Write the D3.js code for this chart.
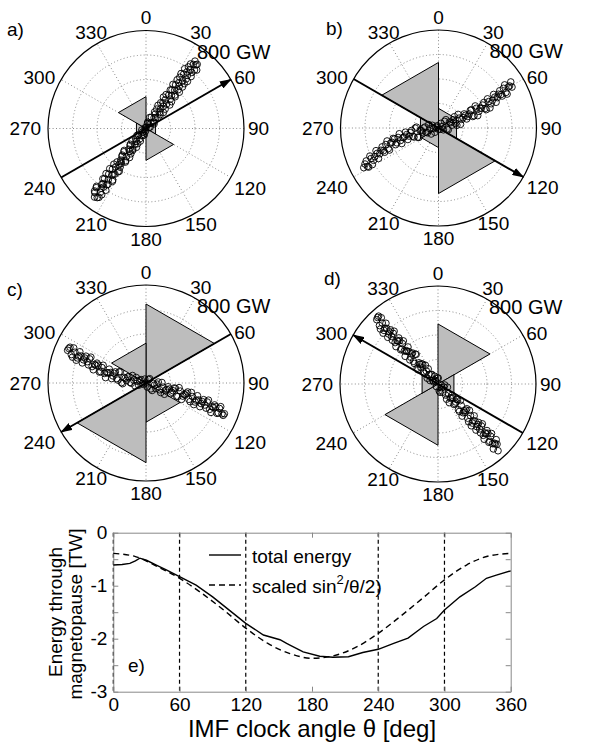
<!DOCTYPE html><meta charset="utf-8">
<style>
*{margin:0}
body{background:#fff}
svg{font-family:"Liberation Sans",Arial,Helvetica,sans-serif;font-size:19px}
.grid{fill:none;stroke:#8a8a8a;stroke-width:1;stroke-dasharray:1,2.4}
.pt{fill:none;stroke:#000;stroke-width:.9}
</style>
<svg width="592" height="745"></svg>
<script src="https://d3js.org/d3.v7.min.js"></script>
<script>
// ---- polar panels a-d ----
const panelNames = ["a)", "b)", "c)", "d)"];
const angleTicks = [0, 30, 60, 90, 120, 150, 180, 210, 240, 270, 300, 330];
const ringTicks = [200, 400, 600];
const rMax = 800;                                  // GW, outer ring
const binEdges = [0, 60, 120, 180, 240, 300, 360]; // rose bins (deg)
const roseA = [70, 90, 260, 70, 90, 260];
const roseB = [160, 170, 535, 160, 170, 535];
const roseC = [645, 20, 320, 650, 20, 325];
const roseD = [490, 150, 60, 500, 150, 60];
const arrowDir = [60, 120, 240, 300];              // arrow head direction (deg)

// scatter points [east, north] in GW
const ptsA = [[-420,-560],[-384,-562],[-420,-510],[-372,-521],[-404,-472],[-328,-504],[-360,-455],[-320,-460],[-352,-411],[-308,-419],[-272,-421],[-304,-372],[-268,-374],[-296,-328],[-228,-354],[-248,-314],[-212,-316],[-236,-273],[-204,-272],[-168,-274],[-196,-228],[-160,-230],[-180,-190],[-124,-207],[-140,-170],[-108,-169],[-128,-129],[-92,-131],[-68,-124],[-84,-87],[-52,-86],[-64,-52],[-24,-57],[-28,-29],[-4,-22],[-8,6],[24,7],[12,41],[40,45],[64,52],[44,92],[80,90],[76,118],[116,113],[88,159],[120,160],[156,158],[120,210],[168,199],[156,233],[208,219],[164,277],[208,269],[236,273],[212,316],[272,296],[220,360],[272,346],[268,374],[312,366],[276,418],[328,404],[308,444],[368,424],[316,488],[360,480],[396,478],[364,527],[408,519],[400,550],
  [-398,-564],[-418,-524],[-362,-541],[-406,-483],[-366,-488],[-346,-478],[-350,-450],[-310,-455],[-338,-409],[-274,-432],[-326,-368],[-278,-379],[-254,-372],[-274,-332],[-218,-349],[-262,-291],[-222,-296],[-202,-286],[-206,-258],[-166,-263],[-194,-217],[-134,-237],[-178,-179],[-134,-187],[-110,-180],[-130,-140],[-78,-154],[-114,-102],[-78,-104],[-46,-103],[-74,-57],[-38,-59],[-14,-52],[-34,-12],[-6,-8],[2,11],[34,12],[14,52],[66,38],[30,90],[66,88],[98,89],[70,135],[110,130],[142,131],[98,189],[142,181],[138,209],[194,192],[142,256],[198,239],[186,273],[238,259],[198,314],[234,312],[262,316],[242,356],[298,339],[254,397],[298,389],[338,384],[286,448],[338,434],[334,462],[374,457],[346,503],[414,477],[386,523],[418,524]];
const ptsB = [[-610,-324],[-590,-269],[-570,-319],[-550,-249],[-530,-264],[-510,-185],[-490,-249],[-470,-182],[-450,-186],[-430,-135],[-410,-168],[-390,-122],[-370,-85],[-350,-136],[-330,-77],[-310,-102],[-290,-78],[-270,-34],[-250,-94],[-230,-38],[-210,-67],[-190,-1],[-170,-75],[-150,-19],[-130,-33],[-110,8],[-90,-39],[-70,-6],[-50,22],[-30,-35],[-10,18],[10,-11],[30,12],[50,54],[70,-8],[90,50],[110,23],[130,92],[150,22],[170,81],[190,70],[210,115],[230,74],[250,114],[270,149],[290,100],[310,161],[330,136],[350,162],[370,208],[390,150],[410,216],[430,198],[450,274],[470,210],[490,276],[510,273],[530,324],[550,290],[570,335],[590,376],[600,334],
  [-600,-294],[-580,-314],[-560,-229],[-540,-299],[-520,-234],[-500,-207],[-480,-210],[-460,-154],[-440,-198],[-420,-106],[-400,-180],[-380,-116],[-360,-90],[-340,-121],[-320,-47],[-300,-127],[-280,-73],[-260,-54],[-240,-66],[-220,-20],[-200,-74],[-180,7],[-160,-77],[-140,-21],[-120,0],[-100,-35],[-80,28],[-60,-49],[-40,-6],[-20,7],[0,-10],[20,38],[40,-15],[60,68],[80,-14],[100,44],[120,67],[140,37],[160,111],[180,30],[200,85],[220,104],[240,94],[260,144],[280,94],[300,180],[320,101],[340,161],[360,187],[380,159],[400,238],[420,164],[440,226],[460,252],[480,248],[500,304],[520,261],[540,352],[560,277],[580,343]];
const ptsC = [[-640,267],[-620,292],[-600,211],[-580,251],[-560,205],[-540,255],[-520,164],[-500,204],[-480,174],[-460,197],[-440,134],[-420,151],[-400,162],[-380,89],[-360,126],[-340,78],[-320,85],[-300,113],[-280,36],[-260,79],[-240,37],[-220,90],[-200,3],[-180,46],[-160,21],[-140,52],[-120,-2],[-100,24],[-80,45],[-60,-18],[-40,28],[-20,-11],[0,0],[20,29],[40,-48],[60,-4],[80,-45],[100,8],[120,-78],[140,-34],[160,-60],[180,-31],[200,-87],[220,-63],[240,-44],[260,-110],[280,-66],[300,-107],[320,-99],[340,-73],[360,-152],[380,-111],[400,-155],[420,-104],[440,-193],[460,-152],[480,-180],[500,-155],[520,-215],[540,-194],[560,-179],[580,-248],[600,-208],[620,-252],[640,-251],
  [-630,282],[-610,232],[-590,286],[-570,186],[-550,220],[-530,220],[-510,189],[-490,219],[-470,148],[-450,211],[-430,108],[-410,144],[-390,146],[-370,93],[-350,145],[-330,44],[-310,82],[-290,85],[-270,58],[-250,91],[-230,24],[-210,92],[-190,-5],[-170,39],[-150,49],[-130,5],[-110,61],[-90,-23],[-70,14],[-50,20],[-30,-4],[-10,32],[10,-33],[30,35],[50,-61],[70,-17],[90,-9],[110,-55],[130,4],[150,-92],[170,-53],[190,-49],[210,-75],[230,-41],[250,-107],[270,-38],[290,-134],[310,-91],[330,-84],[350,-133],[370,-77],[390,-176],[410,-140],[430,-139],[450,-168],[470,-136],[490,-205],[510,-140],[530,-240],[550,-199],[570,-194],[590,-243],[610,-193],[630,-264]];
const ptsD = [[-500,525],[-485,554],[-470,449],[-455,498],[-440,437],[-425,496],[-410,381],[-395,425],[-380,389],[-365,413],[-350,338],[-335,357],[-320,376],[-305,280],[-290,330],[-275,269],[-260,273],[-245,302],[-230,197],[-215,246],[-200,185],[-185,244],[-170,129],[-155,173],[-140,137],[-125,161],[-110,86],[-95,105],[-80,124],[-65,28],[-50,78],[-35,17],[-20,21],[-5,50],[10,-56],[25,-6],[40,-67],[55,-8],[70,-124],[85,-79],[100,-115],[115,-91],[130,-167],[145,-147],[160,-128],[175,-224],[190,-175],[205,-235],[220,-231],[235,-202],[250,-308],[265,-258],[280,-319],[295,-260],[310,-376],[325,-331],[340,-367],[355,-343],[370,-419],[385,-399],[400,-380],[415,-476],[430,-427],[445,-487],[460,-483],[475,-454],[490,-545],
  [-493,543],[-478,477],[-463,541],[-448,415],[-433,455],[-418,454],[-403,408],[-388,442],[-373,357],[-358,431],[-343,305],[-328,349],[-313,354],[-298,288],[-283,352],[-268,226],[-253,266],[-238,265],[-223,219],[-208,253],[-193,168],[-178,242],[-163,116],[-148,160],[-133,165],[-118,99],[-103,153],[-88,47],[-73,77],[-58,76],[-43,30],[-28,64],[-13,-21],[2,48],[17,-68],[32,-29],[47,-24],[62,-90],[77,-26],[92,-152],[107,-112],[122,-113],[137,-159],[152,-125],[167,-210],[182,-136],[197,-262],[212,-218],[227,-213],[242,-279],[257,-215],[272,-341],[287,-301],[302,-302],[317,-348],[332,-314],[347,-399],[362,-325],[377,-451],[392,-407],[407,-402],[422,-468],[437,-404],[452,-530],[467,-490],[482,-491]];

// ---- panel e ----
const thetaTot = [0, 8, 15, 20, 24, 30, 39, 48, 60, 75, 90, 105, 120, 136, 151, 157, 160, 172, 187, 199, 213, 226, 240, 254, 267, 281, 293, 300, 314, 328, 338, 347, 360];
const energyTot = [-0.61, -0.60, -0.58, -0.53, -0.48, -0.52, -0.61, -0.70, -0.83, -0.99, -1.21, -1.46, -1.71, -1.93, -2.02, -2.09, -2.12, -2.25, -2.33, -2.35, -2.34, -2.26, -2.20, -2.09, -1.99, -1.77, -1.62, -1.46, -1.21, -1.02, -0.86, -0.80, -0.72];
const thetaSin = [0, 20, 40, 60, 80, 100, 120, 140, 160, 180, 200, 220, 240, 260, 280, 300, 320, 340, 360];
const energySin = [-0.39, -0.45, -0.64, -0.86, -1.14, -1.46, -1.80, -2.09, -2.28, -2.37, -2.32, -2.16, -1.90, -1.58, -1.24, -0.89, -0.61, -0.44, -0.39];
const xTicks = [0, 60, 120, 180, 240, 300, 360];
const yTicks = [0, -0.5, -1, -1.5, -2, -2.5, -3];
const sectorLines = [0, 60, 120, 240, 300];

const svg = d3.select("svg");
const R = 98;
const rScale = d3.scaleLinear().domain([0, rMax]).range([0, R]);
const xS = d3.scaleLinear().domain([-rMax, rMax]).range([-R, R]);
const yS = d3.scaleLinear().domain([-rMax, rMax]).range([R, -R]);
const rad = d => d * Math.PI / 180;
const polar = (deg, v) => [rScale(v) * Math.sin(rad(deg)), -rScale(v) * Math.cos(rad(deg))];
const wedge = d3.lineRadial().angle(d => rad(d[0])).radius(d => rScale(d[1]));

const centres = [[146, 128.5], [438.5, 128], [146, 383], [438, 384]];
const nameXY = [[7, 36], [326, 35], [7, 296], [324, 285]];
const roses = [roseA, roseB, roseC, roseD];
const clouds = [ptsA, ptsB, ptsC, ptsD];

svg.append("defs").append("marker")
   .attr("id", "head").attr("viewBox", "0 0 12 8")
   .attr("refX", 11).attr("refY", 4)
   .attr("markerWidth", 12).attr("markerHeight", 8)
   .attr("markerUnits", "userSpaceOnUse").attr("orient", "auto")
   .append("path").attr("d", "M0,0L12,4L0,8Z").attr("fill", "#000");

centres.forEach(([cx, cy], i) => {
  const g = svg.append("g").attr("transform", `translate(${cx},${cy})`);

  g.selectAll(null).data(ringTicks).join("circle")
   .attr("class", "grid").attr("r", d => rScale(d));
  g.selectAll(null).data(angleTicks.filter(a => a < 180)).join("line")
   .attr("class", "grid")
   .attr("x1", a => polar(a, rMax)[0]).attr("y1", a => polar(a, rMax)[1])
   .attr("x2", a => polar(a + 180, rMax)[0]).attr("y2", a => polar(a + 180, rMax)[1]);

  // rose wedges
  g.selectAll(null).data(roses[i]).join("path")
   .attr("d", (v, k) => wedge([[binEdges[k], 0], [binEdges[k], v], [binEdges[k + 1], v]]) + "Z")
   .attr("fill", "#bdbdbd").attr("stroke", "#000").attr("stroke-width", 1);

  g.selectAll(null).data(clouds[i]).join("circle")
   .attr("class", "pt").attr("cx", d => xS(d[0])).attr("cy", d => yS(d[1])).attr("r", 3.3);

  const a = arrowDir[i], tail = polar(a + 180, rMax), tip = polar(a, rMax);
  g.append("line").attr("x1", tail[0]).attr("y1", tail[1]).attr("x2", tip[0]).attr("y2", tip[1])
   .attr("stroke", "#000").attr("stroke-width", 2).attr("marker-end", "url(#head)");

  g.append("circle").attr("r", rScale(rMax)).attr("fill", "none").attr("stroke", "#000").attr("stroke-width", 1.2);

  // angle labels
  g.selectAll(null).data(angleTicks).join("text")
   .attr("dominant-baseline", "central")
   .attr("text-anchor", a => { const s = Math.sin(rad(a)); return s > 0.6 ? "start" : s < -0.6 ? "end" : "middle"; })
   .attr("x", a => { const s = Math.sin(rad(a)); return rScale(rMax) * s * (s > 0.6 ? 1.04 : s < -0.6 ? 1.07 : 1.12); })
   .attr("y", a => { const s = Math.sin(rad(a)), c = Math.cos(rad(a));
                     const k = Math.abs(s) > 0.6 ? (Math.abs(s) > 0.9 ? 1 : 1.04) : 1.13;
                     return -rScale(rMax) * c * k + (c < -0.3 && Math.abs(s) > 0.6 ? 9 : 0); })
   .text(a => a);

  g.append("text").attr("x", 51).attr("y", -77).attr("font-size", 20)
   .attr("dominant-baseline", "central").text(rMax + " GW");
  svg.append("text").attr("x", nameXY[i][0]).attr("y", nameXY[i][1]).text(panelNames[i]);
});

// ---- panel e ----
const ex = d3.scaleLinear().domain([0, 360]).range([113.3, 510.7]);
const ey = d3.scaleLinear().domain([-3, 0]).range([691.7, 532.7]);
const ge = svg.append("g");
const fmt = d => Number.isInteger(d) ? String(d) : "";

ge.selectAll(null).data(sectorLines).join("line")
  .attr("x1", d => ex(d)).attr("x2", d => ex(d)).attr("y1", ey(0)).attr("y2", ey(-3))
  .attr("stroke", "#000").attr("stroke-width", 1.2).attr("stroke-dasharray", "4,3");

ge.append("g").attr("transform", `translate(0,${ey(-3)})`)
  .call(d3.axisBottom(ex).tickValues(xTicks).tickSizeInner(-5).tickSizeOuter(0).tickPadding(6).tickFormat(String));
ge.append("g").attr("transform", `translate(0,${ey(0)})`)
  .call(d3.axisTop(ex).tickValues(xTicks).tickSizeInner(-5).tickSizeOuter(0).tickFormat(""));
ge.append("g").attr("transform", `translate(${ex(0)},0)`)
  .call(d3.axisLeft(ey).tickValues(yTicks).tickSizeInner(-5).tickSizeOuter(0).tickPadding(6).tickFormat(fmt));
ge.append("g").attr("transform", `translate(${ex(360)},0)`)
  .call(d3.axisRight(ey).tickValues(yTicks).tickSizeInner(-5).tickSizeOuter(0).tickFormat(""));
ge.selectAll(".domain").attr("stroke", "#888");
ge.selectAll(".tick line").attr("stroke", "#888");
ge.selectAll(".tick text").attr("font-size", 19).attr("font-family", "Liberation Sans, Arial, sans-serif").attr("fill", "#000");

const lineTot = d3.line().x((d, k) => ex(thetaTot[k])).y(d => ey(d));
const lineSin = d3.line().x((d, k) => ex(thetaSin[k])).y(d => ey(d)).curve(d3.curveMonotoneX);
ge.append("path").attr("d", lineSin(energySin)).attr("fill", "none").attr("stroke", "#000")
  .attr("stroke-width", 1.4).attr("stroke-dasharray", "6,4");
ge.append("path").attr("d", lineTot(energyTot)).attr("fill", "none").attr("stroke", "#000").attr("stroke-width", 1.4);

// legend
ge.append("line").attr("x1", 209).attr("x2", 241).attr("y1", 555).attr("y2", 555).attr("stroke", "#000").attr("stroke-width", 1.4);
ge.append("line").attr("x1", 209).attr("x2", 241).attr("y1", 585).attr("y2", 585).attr("stroke", "#000").attr("stroke-width", 1.4).attr("stroke-dasharray", "6,4");
ge.append("text").attr("x", 252).attr("y", 556).attr("dominant-baseline", "central").text("total energy");
const t2 = ge.append("text").attr("x", 252).attr("y", 586).attr("dominant-baseline", "central");
t2.append("tspan").text("scaled sin");
t2.append("tspan").attr("dy", -7).attr("font-size", 13).text("2");
t2.append("tspan").attr("dy", 7).text("/θ/2)");
ge.append("text").attr("x", 128).attr("y", 672).text("e)");

// axis titles
ge.append("text").attr("transform", "translate(62,612) rotate(-90)").attr("text-anchor", "middle").text("Energy through");
ge.append("text").attr("transform", "translate(82,614) rotate(-90)").attr("text-anchor", "middle").text("magnetopause [TW]");
ge.append("text").attr("x", ex(180)).attr("y", 737).attr("text-anchor", "middle").attr("font-size", 24).text("IMF clock angle θ [deg]");
</script>
